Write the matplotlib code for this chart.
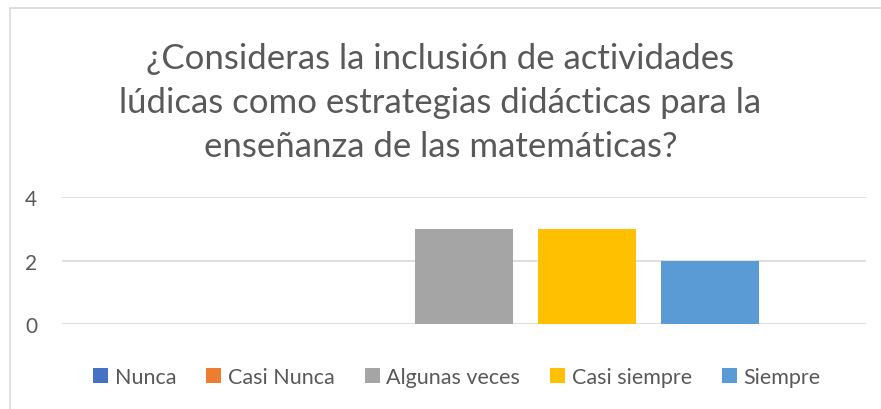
import matplotlib.pyplot as plt
from matplotlib.patches import Rectangle

# data
categories = ['Nunca', 'Casi Nunca', 'Algunas veces', 'Casi siempre', 'Siempre']
values = [0, 0, 3, 3, 2]
colors = ['#4472C4', '#ED7D31', '#A5A5A5', '#FFC000', '#5B9BD5']
yticks = [0, 2, 4]
title = '¿Consideras la inclusión de actividades\nlúdicas como estrategias didácticas para la\nenseñanza de las matemáticas?'

plt.rcParams['font.family'] = ['Lato', 'DejaVu Sans']
text_color = '#595959'

fig = plt.figure(figsize=(8.81, 4.10), dpi=100)
ax = fig.add_axes([62 / 881, 1 - 325 / 410, (866 - 62) / 881, (325 - 198) / 410])

for i, (cat, val, col) in enumerate(zip(categories, values, colors)):
    ax.bar(i, val, width=0.8, color=col, label=cat, zorder=3)

ax.set_xlim(-1.27, 5.27)
ax.set_ylim(0, 4)
ax.set_yticks(yticks)
ax.set_xticks([])
ax.grid(axis='y', color='#D9D9D9', linewidth=1.2, zorder=0)
for s in ax.spines.values():
    s.set_visible(False)
ax.tick_params(axis='y', length=0, pad=18, labelsize=15, labelcolor=text_color)

fig.text(0.5, 1 - 103 / 410, title, ha='center', va='center', fontsize=25,
         color=text_color, linespacing=1.45)

handles, labels = ax.get_legend_handles_labels()
fig.legend(handles, labels, loc='center', bbox_to_anchor=(457 / 881, 1 - 378 / 410),
           ncol=5, frameon=False, fontsize=15.5, labelcolor=text_color,
           handlelength=0.7, handleheight=0.7, handletextpad=0.3, columnspacing=1.4)

# outer chart border
fig.patches.append(Rectangle((9.5 / 881, -0.1), 1.2, 1.1 - 8.5 / 410, transform=fig.transFigure,
                             fill=False, edgecolor='#D9D9D9', linewidth=1.2))

fig.savefig('out.png', dpi=100)
